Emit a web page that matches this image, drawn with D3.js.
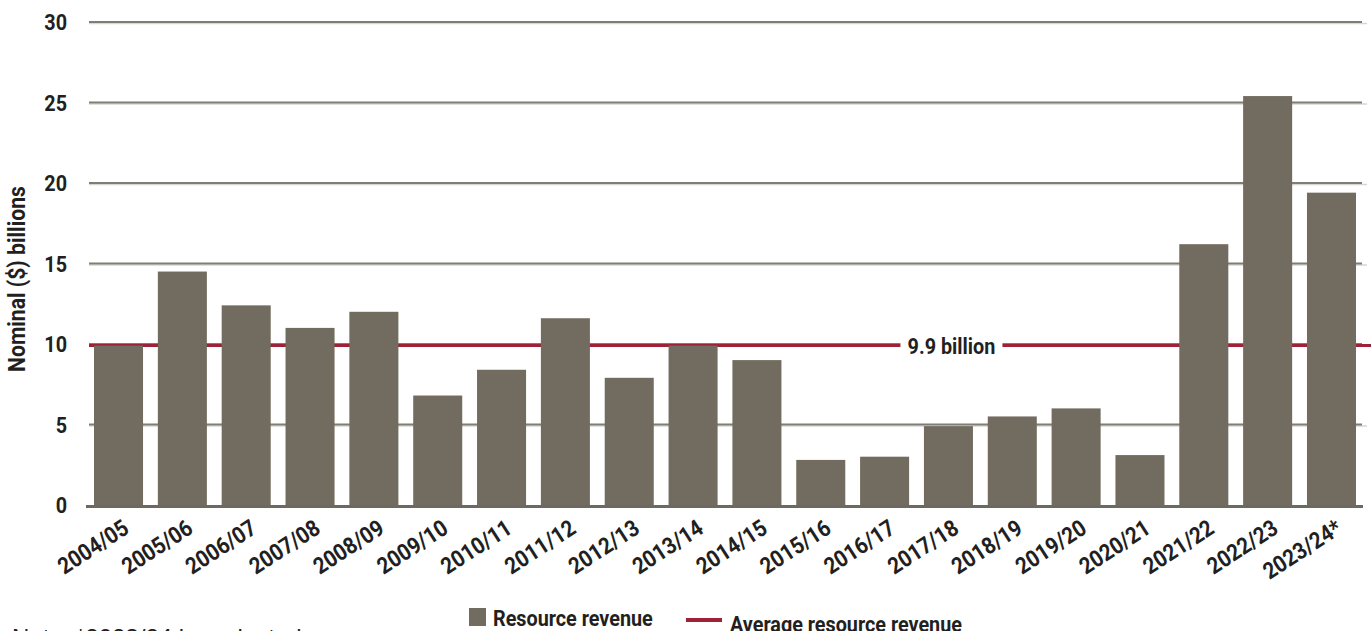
<!DOCTYPE html>
<html>
<head>
<meta charset="utf-8">
<script src="https://cdn.jsdelivr.net/npm/d3@7"></script>
<style>
  html, body { margin: 0; padding: 0; background: #fff; overflow: hidden; }
  svg { display: block; }
  text { font-family: "Roboto", "Liberation Sans", sans-serif; font-weight: bold; fill: #231f20; }
</style>
</head>
<body>
<svg id="chart" width="1371" height="631"></svg>
<script>
// Fiscal years shown along the x axis
const years = ["2004/05", "2005/06", "2006/07", "2007/08", "2008/09", "2009/10", "2010/11",
  "2011/12", "2012/13", "2013/14", "2014/15", "2015/16", "2016/17", "2017/18", "2018/19",
  "2019/20", "2020/21", "2021/22", "2022/23", "2023/24*"];

// Resource revenue, nominal $ billions
const revenue = [9.9, 14.5, 12.4, 11.0, 12.0, 6.8, 8.4, 11.6, 7.9, 9.9, 9.0, 2.8, 3.0, 4.9,
  5.5, 6.0, 3.1, 16.2, 25.4, 19.4];

// Average resource revenue over the period
const averageRevenue = 9.9;

// Y-axis tick values
const yTicks = [0, 5, 10, 15, 20, 25, 30];

const svg = d3.select("#chart");

// Horizontal squeeze that gives the bold face a condensed look
const condense = "scale(0.9,1)";

const x = d3.scaleBand()
  .domain(years)
  .range([86.6, 1363.4])
  .paddingInner(0.232)
  .paddingOuter(0.116);

const y = d3.scaleLinear().domain([0, 30]).range([505, 22]);

const barColor = "#716c5f";
const avgColor = "#9d2235";

// Horizontal gridlines (all but the zero line)
const grid = svg.append("g");
grid.selectAll("line.shadow")
  .data(yTicks.filter(d => d > 0))
  .join("line")
  .attr("x1", 89).attr("x2", 1367)
  .attr("y1", d => y(d) + 1.5).attr("y2", d => y(d) + 1.5)
  .attr("stroke", "#d6d6d2").attr("stroke-width", 1.5);
grid.selectAll("line.main")
  .data(yTicks.filter(d => d > 0))
  .join("line")
  .attr("x1", 89).attr("x2", 1362)
  .attr("y1", d => y(d)).attr("y2", d => y(d))
  .attr("stroke", "#7f7e74").attr("stroke-width", 2);

// Average line
svg.append("line")
  .attr("x1", 89).attr("x2", 1371)
  .attr("y1", y(averageRevenue)).attr("y2", y(averageRevenue))
  .attr("stroke", avgColor).attr("stroke-width", 3);

// Bars
svg.append("g").selectAll("rect")
  .data(years.map((yr, i) => ({ yr, v: revenue[i] })))
  .join("rect")
  .attr("x", d => x(d.yr))
  .attr("width", x.bandwidth())
  .attr("y", d => y(d.v))
  .attr("height", d => y(0) - y(d.v))
  .attr("fill", barColor);

// Baseline
svg.append("line")
  .attr("x1", 86).attr("x2", 1363)
  .attr("y1", y(0) + 1.5).attr("y2", y(0) + 1.5)
  .attr("stroke", "#6b6a60").attr("stroke-width", 3);

// Label on the average line
const labelX = x("2017/18") + x.bandwidth() / 2 + 3;
const avgLabel = svg.append("g")
  .attr("transform", `translate(${labelX},${y(averageRevenue)})`);
avgLabel.append("rect")
  .attr("x", -51).attr("width", 102)
  .attr("y", -12).attr("height", 24)
  .attr("fill", "#fff");
avgLabel.append("text")
  .attr("transform", condense)
  .attr("dy", "0.36em")
  .attr("text-anchor", "middle")
  .style("font-size", "22px")
  .text(averageRevenue + " billion");

// Y axis tick labels
const yAxis = d3.axisLeft(y).tickValues(yTicks).tickSize(0).tickPadding(0);
svg.append("g")
  .attr("transform", "translate(67,0)")
  .call(yAxis)
  .call(g => g.select(".domain").remove())
  .call(g => g.selectAll("text")
    .style("font-size", "22px")
    .style("font-family", "Roboto, sans-serif")
    .style("font-weight", "bold")
    .attr("fill", "#231f20")
    .attr("dy", "0.36em")
    .attr("transform", condense));

// X axis labels, rotated
const xAxis = d3.axisBottom(x).tickSize(0).tickPadding(0);
svg.append("g")
  .attr("transform", `translate(0,${y(0)})`)
  .call(xAxis)
  .call(g => g.select(".domain").remove())
  .call(g => g.selectAll("text")
    .style("font-size", "23px")
    .style("font-family", "Roboto, sans-serif")
    .style("font-weight", "bold")
    .attr("fill", "#231f20")
    .attr("text-anchor", "end")
    .attr("dy", "0")
    .attr("y", 0)
    .attr("transform", "translate(12,27) rotate(-33) " + condense));

// Y axis title
svg.append("text")
  .attr("transform", "translate(25,279) rotate(-90) scale(0.92,1)")
  .attr("text-anchor", "middle")
  .style("font-size", "23px")
  .text("Nominal ($) billions");

// Legend
const legend = svg.append("g");
legend.append("rect")
  .attr("x", 469).attr("y", 608).attr("width", 17).attr("height", 18)
  .attr("fill", barColor);
legend.append("text")
  .attr("transform", "translate(493,626) " + condense)
  .style("font-size", "22px")
  .text("Resource revenue");
legend.append("line")
  .attr("x1", 686).attr("x2", 722)
  .attr("y1", 620).attr("y2", 620)
  .attr("stroke", avgColor).attr("stroke-width", 4);
legend.append("text")
  .attr("transform", "translate(730,632) " + condense)
  .style("font-size", "22px")
  .text("Average resource revenue");

// Footnote
svg.append("text")
  .attr("x", 12).attr("y", 646)
  .style("font-family", "'Liberation Sans', Arial, sans-serif")
  .style("font-weight", "normal")
  .style("font-size", "24px")
  .text("Note: *2023/24 is projected.");
</script>
</body>
</html>
